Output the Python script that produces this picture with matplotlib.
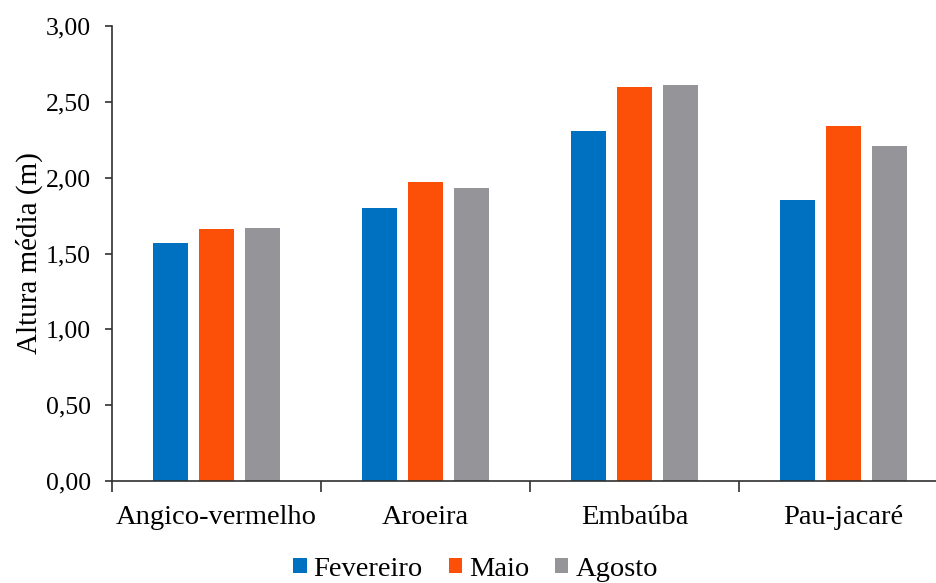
import numpy as np
import matplotlib.pyplot as plt
from matplotlib.ticker import FixedLocator, FuncFormatter

plt.rcParams['font.family'] = ['Liberation Serif', 'DejaVu Serif']

# mean height per species and month (m)
especies = ["Angico-vermelho", "Aroeira", "Embaúba", "Pau-jacaré"]
meses = ["Fevereiro", "Maio", "Agosto"]
fevereiro = [1.57, 1.80, 2.31, 1.85]
maio = [1.66, 1.97, 2.60, 2.34]
agosto = [1.67, 1.93, 2.61, 2.21]
cores = ["#0070C0", "#FC4F08", "#959499"]

fig = plt.figure(figsize=(9.37, 5.83), dpi=100)
ax = fig.add_axes([112 / 937, 1 - 481 / 583, 836 / 937, 455 / 583])

x = np.arange(len(especies))
largura = 0.168
passo = 0.222
for i, (serie, cor, nome) in enumerate(zip([fevereiro, maio, agosto], cores, meses)):
    ax.bar(x + (i - 1) * passo, serie, width=largura, color=cor, label=nome)

ax.set_xlim(-0.5, len(especies) - 0.5)
ax.set_ylim(0, 3.0)
ax.set_yticks(np.arange(0, 3.01, 0.5))
ax.yaxis.set_major_formatter(FuncFormatter(lambda v, p: f"{v:.2f}".replace(".", ",")))
ax.set_xticks(x)
ax.set_xticklabels(especies)
# category separators on the x axis
ax.xaxis.set_minor_locator(FixedLocator(np.arange(-0.5, len(especies), 1.0)))

for lado in ["top", "right"]:
    ax.spines[lado].set_visible(False)
for lado in ["left", "bottom"]:
    ax.spines[lado].set_color("#303030")
    ax.spines[lado].set_linewidth(1.2)

ax.tick_params(axis="y", direction="out", length=5, width=1.2, color="#303030",
               labelsize=18.5, pad=10)
ax.tick_params(axis="x", which="major", length=0, labelsize=20.5, pad=17)
ax.tick_params(axis="x", which="minor", direction="out", length=8, width=1.2, color="#303030")

ax.set_ylabel("Altura média (m)", fontsize=21, labelpad=2)

fig.legend(loc="center", bbox_to_anchor=(475.5 / 937, 1 - 569 / 583), ncol=3,
           frameon=False, prop={"family": ["Liberation Serif"], "size": 20.5},
           handlelength=0.47, handleheight=0.47,
           handletextpad=0.25, columnspacing=0.9, borderpad=0)

fig.savefig("out.png", dpi=100)
